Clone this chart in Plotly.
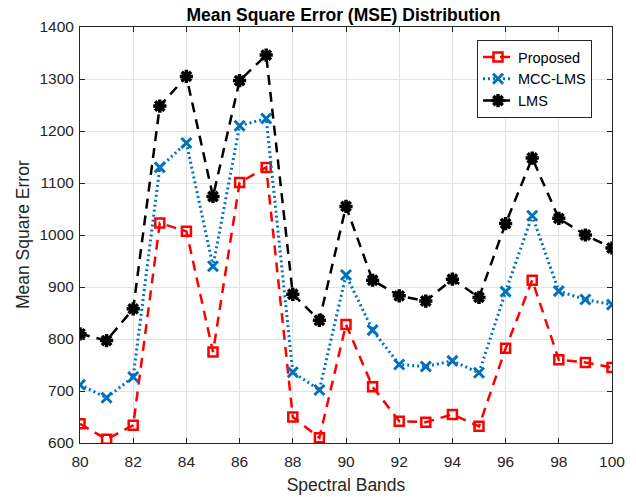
import plotly.graph_objects as go

bands = list(range(80, 101))
proposed = [637, 607, 634, 1023, 1007, 775, 1101, 1130, 650, 610, 828, 708, 642, 640, 655, 632, 782, 913, 760, 755, 745]
mcc_lms = [712, 687, 727, 1130, 1177, 940, 1210, 1224, 736, 702, 923, 817, 751, 747, 758, 735, 891, 1037, 892, 876, 866]
lms = [810, 797, 858, 1248, 1305, 1074, 1297, 1346, 886, 836, 1055, 913, 883, 873, 915, 880, 1022, 1148, 1032, 1000, 975]
x_ticks = list(range(80, 101, 2))
y_ticks = list(range(600, 1401, 100))

fig = go.Figure()
fig.add_trace(go.Scatter(x=bands, y=proposed, name="Proposed", mode="lines+markers",
                         line=dict(color="#FF0000", width=2.5, dash="10px,7px"),
                         marker=dict(symbol="square-open", size=9, color="#FF0000", line=dict(width=2.5))))
fig.add_trace(go.Scatter(x=bands, y=mcc_lms, name="MCC-LMS", mode="lines+markers",
                         line=dict(color="#0072BD", width=3, dash="2px,3px"),
                         marker=dict(symbol="x-thin-open", size=10, color="#0072BD", line=dict(width=3, color="#0072BD"))))
fig.add_trace(go.Scatter(x=bands, y=lms, name="LMS", mode="lines+markers",
                         line=dict(color="#000000", width=2.5, dash="10px,7px"),
                         marker=dict(symbol="asterisk-open", size=11, color="#000000", line=dict(width=3.5, color="#000000"))))

axis_common = dict(showline=True, linecolor="#262626", linewidth=1, mirror="ticks", ticks="inside",
                   ticklen=5, tickcolor="#262626", showgrid=True, gridcolor="#e3e3e3", gridwidth=1,
                   zeroline=False, tickfont=dict(size=15.5, color="#262626"), automargin=False)
fig.update_xaxes(range=[80, 100], tickvals=x_ticks, ticklabelstandoff=4,
                 title=dict(text="Spectral Bands", font=dict(size=17.5, color="#262626"), standoff=10),
                 **axis_common)
fig.update_yaxes(range=[600, 1400], tickvals=y_ticks, ticklabelstandoff=2, **axis_common)

fig.add_annotation(text="Mean Square Error", xref="paper", yref="paper", x=-0.107, y=0.5,
                   xanchor="center", yanchor="middle", textangle=-90, showarrow=False,
                   font=dict(size=17.5, color="#262626"))

fig.update_layout(
    width=636, height=497,
    margin=dict(l=80, r=24, t=27, b=54),
    paper_bgcolor="white", plot_bgcolor="white",
    font=dict(family="Liberation Sans, Arial, sans-serif", color="#262626"),
    title=dict(text="<b>Mean Square Error (MSE) Distribution</b>", x=0.54, xanchor="center",
               y=0.9708, yanchor="middle", font=dict(size=17.5, color="#000000")),
    legend=dict(x=0.9624, xanchor="right", y=0.9688, yanchor="top", bgcolor="white",
                bordercolor="#262626", borderwidth=1, font=dict(size=14.5, color="#000000"),
                tracegroupgap=0, itemwidth=30),
    showlegend=True,
)

fig.write_html("out.html", config={"displayModeBar": False},
               post_script="document.body.style.margin='0';")
